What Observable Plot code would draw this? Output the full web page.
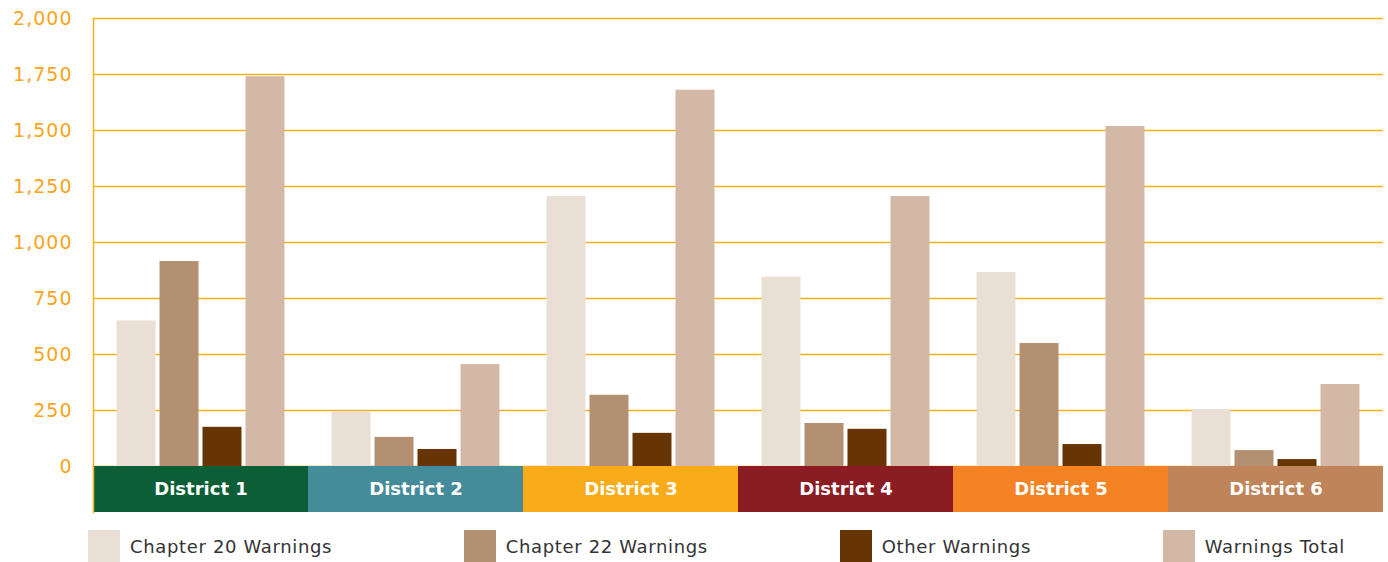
<!DOCTYPE html>
<html>
<head>
<meta charset="utf-8">
<script src="https://cdn.jsdelivr.net/npm/d3@7"></script>
<script src="https://cdn.jsdelivr.net/npm/@observablehq/plot@0.6"></script>
<style>
  html, body { margin: 0; padding: 0; background: white; }
  #chart { width: 1388px; font-family: "DejaVu Sans", sans-serif; }
  #chart svg { display: block; }
  .legend { display: flex; justify-content: space-between; margin: 18px 0 0 88px; width: 1257px; }
  .legend .item { display: flex; align-items: center; }
  .legend .sw { width: 32px; height: 32px; margin-right: 10px; }
  .legend .lb { font-size: 18px; color: #333; letter-spacing: 0.65px; }
</style>
</head>
<body>
<div id="chart"></div>
<script>
const districts = ["District 1", "District 2", "District 3", "District 4", "District 5", "District 6"];
const series = ["Chapter 20 Warnings", "Chapter 22 Warnings", "Other Warnings", "Warnings Total"];
const chapter20 = [650, 243, 1205, 845, 866, 254];
const chapter22 = [915, 130, 318, 192, 549, 71];
const other = [175, 76, 148, 166, 98, 31];
const total = [1740, 455, 1680, 1205, 1518, 366];
const yTicks = [0, 250, 500, 750, 1000, 1250, 1500, 1750, 2000];

const seriesColors = ["#EADFD4", "#B39072", "#663503", "#D2B8A5"];
const districtColors = ["#0B5E35", "#468B9A", "#F9AB1A", "#8B1C23", "#F58223", "#C0845A"];
const gold = "#F9B21B";
const labelGold = "#F9A51B";

const valuesBySeries = [chapter20, chapter22, other, total];
const data = [];
districts.forEach((d, i) => {
  series.forEach((s, j) => {
    data.push({district: d, series: s, value: valuesBySeries[j][i]});
  });
});

const main = Plot.plot({
  width: 1388,
  height: 466,
  marginTop: 18,
  marginBottom: 0,
  marginLeft: 93,
  marginRight: 5,
  style: {background: "transparent", overflow: "visible", fontFamily: "DejaVu Sans, sans-serif"},
  fx: {domain: districts, padding: 0, axis: null, round: false},
  x: {domain: series, paddingInner: 0.093, paddingOuter: 0.547, axis: null, round: false},
  y: {domain: [0, 2000], axis: null},
  color: {domain: series, range: seriesColors},
  marks: [
    Plot.gridY(yTicks, {stroke: gold, strokeOpacity: 1, strokeWidth: 1.5}),
    Plot.frame({anchor: "left", facetAnchor: "left", stroke: gold, strokeWidth: 1.5}),
    Plot.barY(data, {fx: "district", x: "series", y: "value", fill: "series"}),
    Plot.axisY(yTicks, {
      facetAnchor: "left",
      tickSize: 0, tickPadding: 21,
      tickFormat: d3.format(","),
      fill: labelGold, fontSize: 19,
      label: null
    })
  ]
});
main.querySelectorAll("g[aria-label='y-axis tick label'] text").forEach(t => t.setAttribute("letter-spacing", "1"));

const strip = Plot.plot({
  width: 1388,
  height: 46,
  marginTop: 0,
  marginBottom: 0,
  marginLeft: 93,
  marginRight: 5,
  style: {background: "transparent", overflow: "visible", fontFamily: "DejaVu Sans, sans-serif"},
  x: {domain: districts, padding: 0, axis: null},
  color: {domain: districts, range: districtColors},
  marks: [
    Plot.cell(districts, {x: d => d, fill: d => d, inset: 0}),
    Plot.text(districts, {x: d => d, text: d => d, fill: "white", fontWeight: "bold", fontSize: 18}),
    Plot.frame({anchor: "left", stroke: gold, strokeWidth: 1.5})
  ]
});

const chart = document.getElementById("chart");
chart.appendChild(main);
chart.appendChild(strip);

const legend = document.createElement("div");
legend.className = "legend";
series.forEach((s, j) => {
  const item = document.createElement("div");
  item.className = "item";
  const sw = document.createElement("div");
  sw.className = "sw";
  sw.style.background = seriesColors[j];
  const lb = document.createElement("span");
  lb.className = "lb";
  lb.textContent = s;
  item.appendChild(sw);
  item.appendChild(lb);
  legend.appendChild(item);
});
chart.appendChild(legend);
</script>
</body>
</html>
